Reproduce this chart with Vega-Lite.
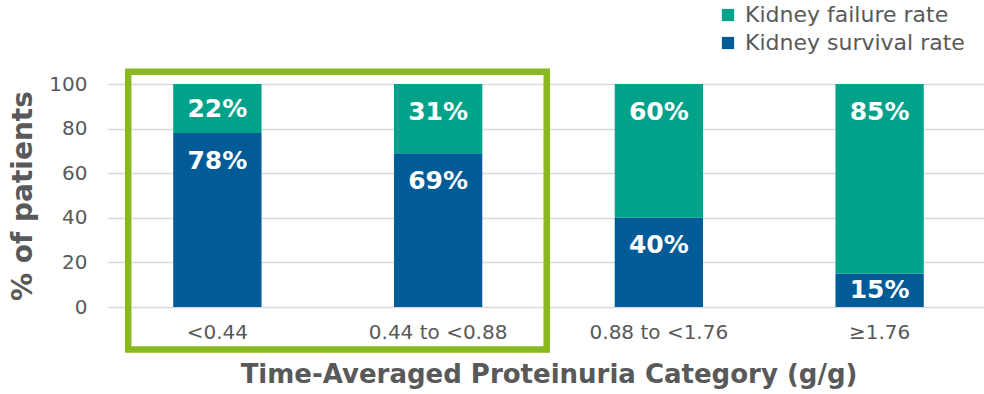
{
  "$schema": "https://vega.github.io/schema/vega-lite/v6.json",
  "autosize": {"type": "none"},
  "padding": {"left": 107, "top": 84, "right": 0, "bottom": 87},
  "width": 883,
  "height": 223,
  "background": "white",
  "config": {
    "view": {"stroke": null},
    "font": "DejaVu Sans"
  },
  "data": {
    "values": [
      {"category": "<0.44", "series": "Kidney survival rate", "value": 78},
      {"category": "<0.44", "series": "Kidney failure rate", "value": 22},
      {"category": "0.44 to <0.88", "series": "Kidney survival rate", "value": 69},
      {"category": "0.44 to <0.88", "series": "Kidney failure rate", "value": 31},
      {"category": "0.88 to <1.76", "series": "Kidney survival rate", "value": 40},
      {"category": "0.88 to <1.76", "series": "Kidney failure rate", "value": 60},
      {"category": "≥1.76", "series": "Kidney survival rate", "value": 15},
      {"category": "≥1.76", "series": "Kidney failure rate", "value": 85}
    ]
  },
  "transform": [
    {"stack": "value", "groupby": ["category"], "sort": [{"field": "series", "order": "descending"}], "as": ["y0", "y1"]},
    {"calculate": "max(datum.y1 - 12.4, (datum.y0 + datum.y1) / 2)", "as": "labelY"},
    {"calculate": "datum.value + '%'", "as": "label"}
  ],
  "layer": [
    {
      "mark": {"type": "bar"},
      "encoding": {
        "x": {
          "field": "category",
          "type": "nominal",
          "sort": ["<0.44", "0.44 to <0.88", "0.88 to <1.76", "≥1.76"],
          "scale": {"paddingInner": 0.6, "paddingOuter": 0.3},
          "axis": {
            "title": "Time-Averaged Proteinuria Category (g/g)",
            "titleFontSize": 26,
            "titleFontWeight": "bold",
            "titleColor": "#595959",
            "titlePadding": 19,
            "labelFontSize": 20,
            "labelColor": "#595959",
            "labelPadding": 15,
            "labelAngle": 0,
            "domain": false,
            "ticks": false,
            "grid": false
          }
        },
        "y": {
          "field": "y1",
          "type": "quantitative",
          "scale": {"domain": [0, 100], "nice": false},
          "axis": {
            "title": "% of patients",
            "titleFontSize": 28,
            "titleFontWeight": "bold",
            "titleColor": "#595959",
            "titlePadding": 11,
            "values": [0, 20, 40, 60, 80, 100],
            "labelFontSize": 20,
            "labelColor": "#595959",
            "labelPadding": 20,
            "domain": false,
            "ticks": false,
            "grid": true,
            "gridColor": "#d9d9d9",
            "gridWidth": 1.5
          }
        },
        "y2": {"field": "y0"},
        "color": {
          "field": "series",
          "type": "nominal",
          "scale": {
            "domain": ["Kidney failure rate", "Kidney survival rate"],
            "range": ["#00A28A", "#005B96"]
          },
          "legend": {
            "title": null,
            "orient": "none",
            "legendX": 610,
            "legendY": -80,
            "symbolType": "square",
            "symbolSize": 150,
            "symbolStrokeWidth": 0,
            "labelFontSize": 22,
            "labelColor": "#595959",
            "labelOffset": 6,
            "labelLimit": 0,
            "rowPadding": 6
          }
        }
      }
    },
    {
      "mark": {"type": "text", "color": "white", "fontSize": 25, "fontWeight": "bold", "baseline": "middle"},
      "encoding": {
        "x": {"field": "category", "type": "nominal", "sort": ["<0.44", "0.44 to <0.88", "0.88 to <1.76", "≥1.76"]},
        "y": {"field": "labelY", "type": "quantitative"},
        "text": {"field": "label"}
      }
    },
    {
      "data": {"values": [{"note": "highlight"}]},
      "mark": {"type": "rect", "fill": null, "fillOpacity": 0, "stroke": "#8AB820", "strokeWidth": 6.5},
      "encoding": {
        "x": {"datum": "<0.44", "bandPosition": -0.51},
        "x2": {"datum": "0.44 to <0.88", "bandPosition": 1.73},
        "y": {"datum": 105.5},
        "y2": {"datum": -19.1}
      }
    }
  ]
}
